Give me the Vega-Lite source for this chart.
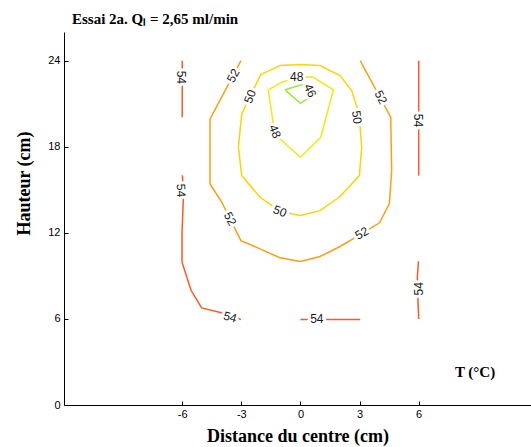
{
  "$schema": "https://vega.github.io/schema/vega-lite/v6.json",
  "autosize": {"type": "none"},
  "width": 467,
  "height": 373,
  "padding": {"left": 64, "top": 32, "right": 0, "bottom": 42},
  "background": "white",
  "title": {
    "text": "Essai 2a. Qₗ = 2,65 ml/min",
    "anchor": "start",
    "frame": "group",
    "dx": 8,
    "offset": -7,
    "baseline": "alphabetic",
    "font": "Liberation Serif",
    "fontSize": 15,
    "fontWeight": "bold",
    "color": "black"
  },
  "config": {
    "view": {"stroke": null},
    "axis": {
      "grid": false,
      "domainColor": "black",
      "domainWidth": 1,
      "tickColor": "black",
      "tickWidth": 1,
      "labelFont": "Liberation Sans",
      "labelFontSize": 11,
      "labelColor": "black",
      "titleFont": "Liberation Serif",
      "titleFontWeight": "bold",
      "titleFontSize": 18,
      "titleColor": "black"
    }
  },
  "datasets": {
    "lines": [
      {"c": "54a", "lev": "54", "i": 0, "x": -6, "y": 24},
      {"c": "54a", "lev": "54", "i": 1, "x": -6, "y": 20.06},
      {"c": "54b", "lev": "54", "i": 0, "x": 6.0, "y": 24},
      {"c": "54b", "lev": "54", "i": 1, "x": 6.0, "y": 15.99},
      {"c": "54c", "lev": "54", "i": 0, "x": -5.99, "y": 16.01},
      {"c": "54c", "lev": "54", "i": 1, "x": -5.94, "y": 14.48},
      {"c": "54c", "lev": "54", "i": 2, "x": -6.01, "y": 12.04},
      {"c": "54c", "lev": "54", "i": 3, "x": -6.01, "y": 9.95},
      {"c": "54c", "lev": "54", "i": 4, "x": -5.55, "y": 7.98},
      {"c": "54c", "lev": "54", "i": 5, "x": -5.01, "y": 6.77},
      {"c": "54c", "lev": "54", "i": 6, "x": -3.91, "y": 6.4},
      {"c": "54c", "lev": "54", "i": 7, "x": -3.02, "y": 5.96},
      {"c": "54d", "lev": "54", "i": 0, "x": 0, "y": 5.96},
      {"c": "54d", "lev": "54", "i": 1, "x": 3.03, "y": 5.96},
      {"c": "54e", "lev": "54", "i": 0, "x": 5.99, "y": 10.02},
      {"c": "54e", "lev": "54", "i": 1, "x": 5.93, "y": 8.91},
      {"c": "54e", "lev": "54", "i": 2, "x": 5.97, "y": 7.05},
      {"c": "54e", "lev": "54", "i": 3, "x": 6.0, "y": 6.0},
      {"c": "52", "lev": "52", "i": 0, "x": -3.02, "y": 24.0},
      {"c": "52", "lev": "52", "i": 1, "x": -3.91, "y": 21.69},
      {"c": "52", "lev": "52", "i": 2, "x": -4.59, "y": 19.94},
      {"c": "52", "lev": "52", "i": 3, "x": -4.59, "y": 15.41},
      {"c": "52", "lev": "52", "i": 4, "x": -3.99, "y": 14.13},
      {"c": "52", "lev": "52", "i": 5, "x": -3.02, "y": 11.46},
      {"c": "52", "lev": "52", "i": 6, "x": -2.05, "y": 10.88},
      {"c": "52", "lev": "52", "i": 7, "x": -1.04, "y": 10.26},
      {"c": "52", "lev": "52", "i": 8, "x": 0, "y": 10.0},
      {"c": "52", "lev": "52", "i": 9, "x": 0.99, "y": 10.35},
      {"c": "52", "lev": "52", "i": 10, "x": 2.01, "y": 11.05},
      {"c": "52", "lev": "52", "i": 11, "x": 2.94, "y": 11.81},
      {"c": "52", "lev": "52", "i": 12, "x": 4.01, "y": 12.7},
      {"c": "52", "lev": "52", "i": 13, "x": 4.51, "y": 14.02},
      {"c": "52", "lev": "52", "i": 14, "x": 4.63, "y": 16.34},
      {"c": "52", "lev": "52", "i": 15, "x": 4.58, "y": 20.06},
      {"c": "52", "lev": "52", "i": 16, "x": 3.03, "y": 24.0},
      {"c": "50", "lev": "50", "i": 0, "x": -1.04, "y": 23.66},
      {"c": "50", "lev": "50", "i": 1, "x": -2.02, "y": 23.03},
      {"c": "50", "lev": "50", "i": 2, "x": -2.98, "y": 20.29},
      {"c": "50", "lev": "50", "i": 3, "x": -3.15, "y": 17.97},
      {"c": "50", "lev": "50", "i": 4, "x": -2.98, "y": 15.99},
      {"c": "50", "lev": "50", "i": 5, "x": -2.05, "y": 14.48},
      {"c": "50", "lev": "50", "i": 6, "x": -1.04, "y": 13.51},
      {"c": "50", "lev": "50", "i": 7, "x": 0, "y": 13.21},
      {"c": "50", "lev": "50", "i": 8, "x": 1.0, "y": 13.55},
      {"c": "50", "lev": "50", "i": 9, "x": 2.01, "y": 14.53},
      {"c": "50", "lev": "50", "i": 10, "x": 2.99, "y": 15.99},
      {"c": "50", "lev": "50", "i": 11, "x": 3.11, "y": 17.97},
      {"c": "50", "lev": "50", "i": 12, "x": 2.97, "y": 20.31},
      {"c": "50", "lev": "50", "i": 13, "x": 2.6, "y": 21.92},
      {"c": "50", "lev": "50", "i": 14, "x": 2.01, "y": 22.96},
      {"c": "50", "lev": "50", "i": 15, "x": 0.99, "y": 23.66},
      {"c": "50", "lev": "50", "i": 16, "x": 0, "y": 23.73},
      {"c": "50", "lev": "50", "i": 17, "x": -1.04, "y": 23.66},
      {"c": "48", "lev": "48", "i": 0, "x": 0, "y": 17.27},
      {"c": "48", "lev": "48", "i": 1, "x": -1.04, "y": 18.55},
      {"c": "48", "lev": "48", "i": 2, "x": -1.38, "y": 19.6},
      {"c": "48", "lev": "48", "i": 3, "x": -1.63, "y": 21.97},
      {"c": "48", "lev": "48", "i": 4, "x": -0.95, "y": 22.5},
      {"c": "48", "lev": "48", "i": 5, "x": 0, "y": 22.9},
      {"c": "48", "lev": "48", "i": 6, "x": 0.65, "y": 22.84},
      {"c": "48", "lev": "48", "i": 7, "x": 1.67, "y": 21.97},
      {"c": "48", "lev": "48", "i": 8, "x": 1.03, "y": 18.66},
      {"c": "48", "lev": "48", "i": 9, "x": 0, "y": 17.27},
      {"c": "46", "lev": "46", "i": 0, "x": -0.78, "y": 21.97},
      {"c": "46", "lev": "46", "i": 1, "x": 0, "y": 22.31},
      {"c": "46", "lev": "46", "i": 2, "x": 0.45, "y": 22.3},
      {"c": "46", "lev": "46", "i": 3, "x": 0.9, "y": 21.85},
      {"c": "46", "lev": "46", "i": 4, "x": 0, "y": 21.03},
      {"c": "46", "lev": "46", "i": 5, "x": -0.78, "y": 21.97}
    ],
    "labels": [
      {"lev": "54", "x": -6.06, "y": 22.84, "rot": 90},
      {"lev": "54", "x": 5.99, "y": 19.83, "rot": 90},
      {"lev": "54", "x": -6.06, "y": 14.95, "rot": 87},
      {"lev": "54", "x": -3.57, "y": 6.12, "rot": 15},
      {"lev": "54", "x": 0.83, "y": 5.96, "rot": 0},
      {"lev": "54", "x": 6.04, "y": 8.1, "rot": -90},
      {"lev": "52", "x": -3.41, "y": 22.96, "rot": -61},
      {"lev": "52", "x": -3.57, "y": 12.98, "rot": 62},
      {"lev": "52", "x": 3.11, "y": 11.97, "rot": -30},
      {"lev": "52", "x": 4.08, "y": 21.45, "rot": 62},
      {"lev": "50", "x": -2.56, "y": 21.5, "rot": -68},
      {"lev": "50", "x": -1.04, "y": 13.5, "rot": 22},
      {"lev": "50", "x": 2.86, "y": 20.06, "rot": 82},
      {"lev": "48", "x": -0.19, "y": 22.84, "rot": 0},
      {"lev": "48", "x": -1.29, "y": 19.06, "rot": 68},
      {"lev": "46", "x": 0.49, "y": 21.92, "rot": 65}
    ],
    "notes": [
      {"txt": "T (°C)", "x": 8.86, "y": 2.29}
    ]
  },
  "layer": [
    {
      "data": {"name": "lines"},
      "mark": {"type": "line", "strokeWidth": 1.5, "clip": true},
      "encoding": {
        "x": {
          "field": "x", "type": "quantitative",
          "scale": {"domain": [-12, 11.7], "nice": false, "zero": false},
          "axis": {
            "values": [-6, -3, 0, 3, 6],
            "title": "Distance du centre (cm)",
            "labelExpr": "replace(datum.label, '−', '-')",
            "tickSize": -4,
            "labelPadding": 7,
            "titleY": 22,
            "titleBaseline": "top"
          }
        },
        "y": {
          "field": "y", "type": "quantitative",
          "scale": {"domain": [0, 26], "nice": false, "zero": false},
          "axis": {
            "values": [0, 6, 12, 18, 24],
            "title": "Hauteur (cm)",
            "tickSize": -4,
            "labelPadding": 8,
            "titleX": -31,
            "titleY": 151
          }
        },
        "color": {
          "field": "lev", "type": "nominal",
          "scale": {
            "domain": ["46", "48", "50", "52", "54"],
            "range": ["#9be83c", "#ecec10", "#ffd400", "#ff9f10", "#ff5a1e"]
          },
          "legend": null
        },
        "detail": {"field": "c"},
        "order": {"field": "i", "type": "quantitative"}
      }
    },
    {
      "data": {"name": "labels"},
      "mark": {"type": "text", "font": "Liberation Sans", "fontSize": 12, "stroke": "white", "strokeWidth": 6, "strokeJoin": "round", "align": "center", "baseline": "middle"},
      "encoding": {
        "x": {"field": "x", "type": "quantitative"},
        "y": {"field": "y", "type": "quantitative"},
        "text": {"field": "lev"},
        "angle": {"field": "rot", "type": "quantitative", "scale": null}
      }
    },
    {
      "data": {"name": "labels"},
      "mark": {"type": "text", "font": "Liberation Sans", "fontSize": 12, "color": "#1a1a1a", "align": "center", "baseline": "middle"},
      "encoding": {
        "x": {"field": "x", "type": "quantitative"},
        "y": {"field": "y", "type": "quantitative"},
        "text": {"field": "lev"},
        "angle": {"field": "rot", "type": "quantitative", "scale": null}
      }
    },
    {
      "data": {"name": "notes"},
      "mark": {"type": "text", "font": "Liberation Serif", "fontSize": 15, "fontWeight": "bold", "color": "black", "align": "center", "baseline": "middle"},
      "encoding": {
        "x": {"field": "x", "type": "quantitative"},
        "y": {"field": "y", "type": "quantitative"},
        "text": {"field": "txt"}
      }
    }
  ]
}
